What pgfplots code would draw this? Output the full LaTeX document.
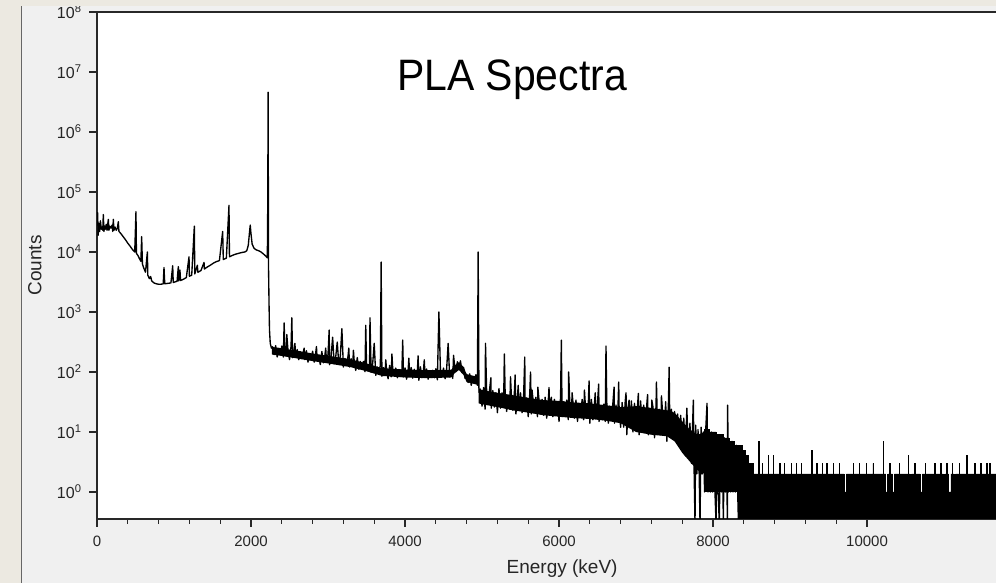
\documentclass[border=0pt]{standalone}
\usepackage{pgfplots}
\pgfplotsset{compat=1.18}
\usepackage{fontspec}
\setmainfont{Liberation Sans}
\definecolor{beige}{RGB}{236,233,225}
\definecolor{panel}{RGB}{240,240,240}
\definecolor{axcol}{RGB}{40,40,40}
\begin{document}
\begin{tikzpicture}[x=1bp,y=1bp]
\useasboundingbox (0,0) rectangle (996,583);
\fill[panel] (0,0) rectangle (996,583);
\begin{axis}[
  at={(97bp,64bp)}, anchor=south west, scale only axis,
  width=930.2bp, height=507bp,
  xmin=0, xmax=12080,
  ymode=log, ymin=0.3548, ymax=1e8,
  axis background/.style={fill=white},
  axis line style={axcol, line width=1.3bp},
  xtick={0,2000,4000,6000,8000,10000},
  xticklabels={0,2000,4000,6000,8000,10000},
  scaled x ticks=false,
  minor x tick num=4,
  ytick={1,10,100,1000,10000,100000,1000000,10000000,100000000},
  yticklabels={10\textsuperscript{0},10\textsuperscript{1},10\textsuperscript{2},10\textsuperscript{3},10\textsuperscript{4},10\textsuperscript{5},10\textsuperscript{6},10\textsuperscript{7},10\textsuperscript{8}},
  yminorticks=false,
  tick align=outside, xtick pos=bottom, ytick pos=left,
  major tick length=8bp, minor tick length=5bp,
  tick style={axcol, line width=1.2bp},
  ticklabel style={font=\fontsize{15bp}{15bp}\selectfont, text=black!85},
  yticklabel style={font=\fontsize{16bp}{16bp}\selectfont},
  xticklabel shift=6bp, yticklabel shift=4bp,
  xlabel={Energy (keV)}, ylabel={Counts},
  label style={font=\fontsize{19bp}{19bp}\selectfont, text=black!85},
  xlabel style={at={(axis description cs:0.5,-0.0986)}, anchor=center},
  ylabel style={at={(axis description cs:-0.0667,0.5)}, anchor=center},
  clip=true,
]
% solid core of the noisy continuum, 2270-4950 keV
\addplot[fill=black, draw=none] coordinates {
(2270,262)(2400,248)(2600,226)(2800,203)(3000,187)(3300,162)(3500,139)(3700,116)(4000,110)(4300,107)(4600,109)(4640,126)(4700,146)(4760,121)(4800,92)(4945,83)
(4945,61)(4800,68)(4760,89)(4700,108)(4640,94)(4600,81)(4300,79)(4000,81)(3700,86)(3500,103)(3300,120)(3000,139)(2800,152)(2600,168)(2400,185)(2270,196)
};
% solid core of the noisy continuum, 4955-7890 keV
\addplot[fill=black, draw=none] coordinates {
(4955,52)(5000,50)(5200,45)(5400,41)(5600,37)(5800,34)(6000,33)(6200,31)(6400,30)(6600,28)(6800,26)(7000,27)(7200,25)(7400,23)(7500,21)(7600,15)(7700,11)(7800,9)(7890,10)
(7890,2)(7800,2.3)(7700,3.2)(7600,4.5)(7500,7)(7400,8.5)(7200,9)(7000,10)(6800,14)(6600,15.5)(6400,16.5)(6200,17)(6000,18)(5800,19)(5600,21)(5400,23)(5200,26)(5000,29)(4955,30)
};
% main spectrum
\addplot[black, line width=1.35bp, line join=round] coordinates {
(0,28000)(8,45000)(15,19000)(25,30000)(35,22000)(45,33000)(55,24000)(65,26000)(75,23000)(82,42000)(90,22000)(100,27000)(110,24000)(120,29000)(130,23000)(147,35000)(155,23000)(165,27000)(180,25000)(195,28000)(205,22000)(212,35000)(220,23000)(235,26000)(250,23000)(265,25000)(277,32000)(285,22000)(300,21000)(320,19500)(340,18000)(370,16000)(400,14000)(430,12500)(460,11000)(490,10000)(506,47000)(512,9500)(530,8800)(550,7800)(570,7000)(580,18000)(590,6300)(610,5300)(630,4600)(654,10000)(660,4100)(680,3600)(697,3900)(710,3300)(740,3050)(770,2950)(800,2900)(830,2900)(860,2950)(870,5500)(880,2950)(920,3000)(960,3050)(983,5900)(990,3100)(1020,3200)(1040,3250)(1056,5700)(1062,3300)(1077,5000)(1085,3350)(1120,3500)(1160,3750)(1195,8300)(1200,3950)(1230,4100)(1264,27000)(1270,4300)(1303,6000)(1310,4600)(1350,4900)(1390,6700)(1395,5200)(1430,5600)(1470,6000)(1510,6500)(1550,6900)(1590,7200)(1632,22000)(1640,7500)(1680,7900)(1714,60000)(1720,8300)(1760,8800)(1800,9200)(1840,9500)(1880,9800)(1920,10000)(1945,10500)(1965,13000)(1980,21000)(1990,28000)(2000,20000)(2015,13500)(2040,11500)(2070,10800)(2100,10500)(2130,10000)(2160,9300)(2190,8600)(2212,8000)(2218,80000)(2222,4600000)(2228,5000)(2234,1400)(2240,500)(2250,300)(2265,250)
(2280,263)(2300,195)(2320,275)(2340,178)(2360,248)(2380,197)(2400,271)(2420,178)(2430,660)(2440,251)(2460,186)(2465,420)(2480,230)(2500,161)(2520,267)(2530,800)(2540,173)(2560,233)(2570,300)(2580,183)(2600,236)(2620,160)(2640,218)(2660,166)(2680,217)(2690,250)(2700,161)(2720,226)(2740,146)(2760,203)(2780,161)(2800,222)(2820,146)(2840,207)(2850,265)(2860,152)(2880,189)(2900,133)(2920,220)(2940,142)(2960,193)(2970,250)(2980,151)(3000,196)(3015,500)(3020,132)(3040,181)(3060,380)(3080,137)(3100,179)(3120,316)(3140,133)(3160,187)(3180,525)(3200,121)(3220,168)(3240,133)(3260,184)(3270,250)(3280,121)(3300,166)(3320,123)(3330,230)(3340,152)(3360,106)(3380,174)(3400,111)(3420,150)(3440,117)(3460,150)(3480,101)(3490,600)(3500,137)(3520,104)(3540,135)(3545,800)(3560,99)(3580,138)(3600,300)(3620,88)(3640,121)(3660,95)(3680,130)(3690,6800)(3700,85)(3720,118)(3740,88)(3750,160)(3760,109)(3780,77)(3800,129)(3820,83)(3830,200)(3840,114)(3860,90)(3880,116)(3900,80)(3920,110)(3940,84)(3960,110)(3970,340)(3980,83)(4000,117)(4020,76)(4040,106)(4050,170)(4060,86)(4080,119)(4100,79)(4120,111)(4140,83)(4160,103)(4170,186)(4180,73)(4200,122)(4220,80)(4240,108)(4250,160)(4260,86)(4280,112)(4300,76)(4320,105)(4340,81)(4360,107)(4380,80)(4400,113)(4420,74)(4440,1000)(4460,104)(4480,84)(4500,116)(4520,77)(4540,110)(4560,300)(4580,83)(4600,105)(4620,78)(4630,190)(4640,143)(4660,102)(4680,148)(4700,115)(4720,154)(4740,98)(4760,119)(4780,78)(4800,92)(4820,67)(4840,93)(4860,60)(4880,83)(4900,66)(4920,90)(4940,60)(4950,10000)
(4960,46)(4980,52)(5000,27)(5020,55)(5040,24)(5045,300)(5060,47)(5080,29)(5100,54)(5115,80)(5120,25)(5140,49)(5160,26)(5180,45)(5200,21)(5220,53)(5240,25)(5260,45)(5280,27)(5290,200)(5300,47)(5320,22)(5340,41)(5360,24)(5370,83)(5380,43)(5400,23)(5420,45)(5430,89)(5440,20)(5460,39)(5470,60)(5480,23)(5500,45)(5520,21)(5540,40)(5555,178)(5560,22)(5580,37)(5600,18)(5620,44)(5630,100)(5640,20)(5650,50)(5660,37)(5680,22)(5700,38)(5720,18)(5725,56)(5740,34)(5760,20)(5780,35)(5800,19)(5820,38)(5840,17)(5860,33)(5870,55)(5880,20)(5900,38)(5920,18)(5940,35)(5960,19)(5980,32)(6000,15)(6020,38)(6030,340)(6040,18)(6060,32)(6080,19)(6100,34)(6120,16)(6125,100)(6140,30)(6160,18)(6170,45)(6180,32)(6200,17)(6220,34)(6240,15)(6260,30)(6280,18)(6300,35)(6320,16)(6330,50)(6340,31)(6360,17)(6380,29)(6390,71)(6400,14)(6420,35)(6440,16)(6460,29)(6470,45)(6480,18)(6500,31)(6515,63)(6520,15)(6540,27)(6560,16)(6580,29)(6600,15)(6610,270)(6620,31)(6640,14)(6660,27)(6680,16)(6700,31)(6715,56)(6720,14)(6740,28)(6760,15)(6775,68)(6780,26)(6800,12)(6820,31)(6840,12)(6860,33)(6870,45)(6880,9)(6900,28)(6910,34)(6920,12)(6940,33)(6960,10)(6980,30)(7000,11)(7020,28)(7030,44)(7040,9)(7060,33)(7080,10)(7100,28)(7120,11)(7140,29)(7150,42)(7160,9)(7180,25)(7200,10)(7205,34)(7220,26)(7240,8)(7260,28)(7265,68)(7280,10)(7300,24)(7320,9)(7330,40)(7340,26)(7360,10)(7380,24)(7385,32)(7400,7)(7420,28)(7430,120)(7440,9)(7460,24)(7480,9)
(7500,22)(7520,7)(7540,20)(7560,6)(7580,19)(7600,5)(7620,17)(7640,4)(7660,25)(7680,4)(7700,14)(7720,3)(7744,34)(7755,2)(7766,0.3)(7775,13)(7790,2)(7805,11)(7820,2)(7831,0.3)(7845,12)(7860,2)(7875,10)(7890,1)(7905,11)(7922,30)(7935,1)(7950,10)(7965,1)(7980,10)(7995,1)(8010,9)(8025,1)(8039,0.3)(8050,9)(8065,1)(8082,0.3)(8095,9)(8110,1)(8120,8)(8134,0.3)(8145,8)(8160,1)(8175,7)(8186,0.3)(8190,28)(8200,1)(8215,7)(8230,1)(8245,7)(8260,1)(8275,6)(8290,1)(8305,6)(8320,1)(8330,0.3)
};
% dense band 7890-8330 (bottom at one count)
\addplot[fill=black, draw=black, line width=0.6bp] coordinates {
(7890,1)(7890,11)(7950,11)(7950,10)(8040,10)(8040,9)(8130,9)(8130,8)(8210,8)(8210,7)(8280,7)(8280,6)(8330,6)(8330,1)
};
% tail: counts 0-2 with sparse higher channels
\addplot[fill=black, draw=black, line width=0.8bp] coordinates {
(8330,0.3)(8330,6)(8380,6)(8380,5)(8425,5)(8425,4)(8460,4)(8460,3)(8500,3)(8500,2)
(8517,2)(8517,3)(8523,3)(8523,2)
(8594,2)(8594,7)(8600,7)(8600,2)
(8637,2)(8637,3)(8643,3)(8643,2)
(8716,2)(8716,4)(8722,4)(8722,2)
(8781,2)(8781,4)(8787,4)(8787,2)
(8867,2)(8867,3)(8873,3)(8873,2)
(8927,2)(8927,3)(8933,3)(8933,2)
(9017,2)(9017,3)(9023,3)(9023,2)
(9083,2)(9083,3)(9089,3)(9089,2)
(9147,2)(9147,3)(9153,3)(9153,2)
(9278,2)(9278,5)(9284,5)(9284,2)
(9343,2)(9343,3)(9349,3)(9349,2)
(9417,2)(9417,3)(9423,3)(9423,2)
(9477,2)(9477,3)(9483,3)(9483,2)
(9559,2)(9559,3)(9565,3)(9565,2)
(9637,2)(9637,3)(9643,3)(9643,2)
(9700,2)(9700,1)(9730,1)(9730,2)
(9819,2)(9819,3)(9825,3)(9825,2)
(9897,2)(9897,3)(9903,3)(9903,2)
(9992,2)(9992,3)(9998,3)(9998,2)
(10077,2)(10077,3)(10083,3)(10083,2)
(10209,2)(10209,7)(10215,7)(10215,2)
(10240,2)(10240,1)(10270,1)(10270,2)
(10295,2)(10295,3)(10301,3)(10301,2)
(10330,2)(10330,1)(10355,1)(10355,2)
(10417,2)(10417,3)(10423,3)(10423,2)
(10533,2)(10533,4)(10539,4)(10539,2)
(10560,2)(10560,1)(10580,1)(10580,2)
(10620,2)(10620,3)(10626,3)(10626,2)
(10690,2)(10690,1)(10720,1)(10720,2)
(10757,2)(10757,3)(10763,3)(10763,2)
(10880,2)(10880,3)(10886,3)(10886,2)
(10957,2)(10957,3)(10963,3)(10963,2)
(10990,2)(10990,1)(11010,1)(11010,2)
(11032,2)(11032,3)(11038,3)(11038,2)
(11060,2)(11060,1)(11090,1)(11090,2)
(11107,2)(11107,3)(11113,3)(11113,2)
(11130,2)(11130,1)(11150,1)(11150,2)
(11197,2)(11197,3)(11203,3)(11203,2)
(11291,2)(11291,4)(11297,4)(11297,2)
(11397,2)(11397,3)(11403,3)(11403,2)
(11477,2)(11477,3)(11483,3)(11483,2)
(11551,2)(11551,3)(11557,3)(11557,2)
(11594,2)(11594,3)(11600,3)(11600,2)
(11697,2)(11697,3)(11703,3)(11703,2)
(11797,2)(11797,3)(11803,3)(11803,2)
(11897,2)(11897,3)(11903,3)(11903,2)
(11997,2)(11997,3)(12003,3)(12003,2)
(12200,2)(12200,0.3)
};
\end{axis}
\fill[beige] (0,577) rectangle (996,583);
\fill[beige] (0,0) rectangle (21,583);
\draw[black!60, line width=1bp] (21.5,0) -- (21.5,577);
\node[anchor=base, font=\fontsize{44bp}{44bp}\selectfont] at (512,492) {\scalebox{0.93}[1]{PLA Spectra}};
\end{tikzpicture}
\end{document}
